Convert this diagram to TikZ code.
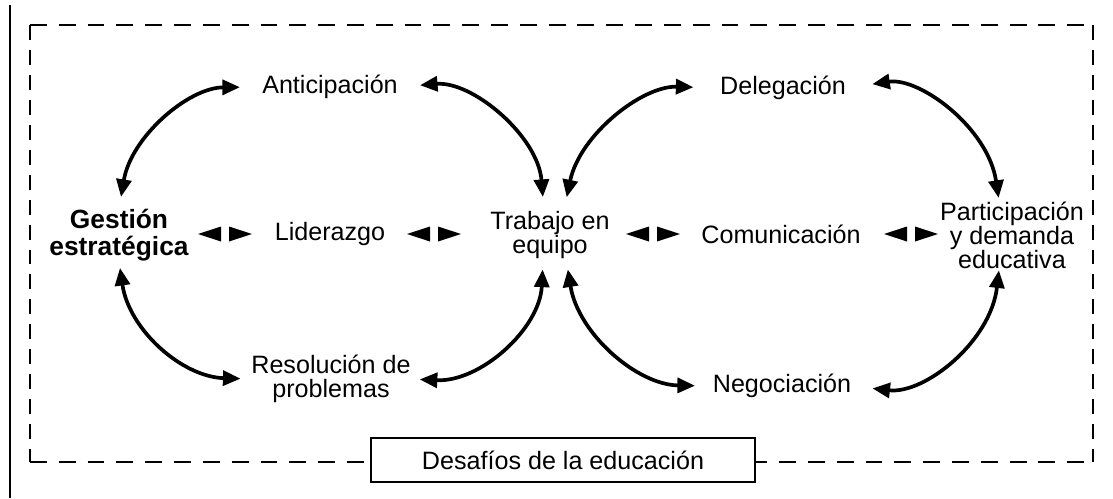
\documentclass[tikz,border=0pt]{standalone}
\usepackage{fontspec}
\setmainfont{Liberation Sans}
\usepackage{tikz}
\usetikzlibrary{arrows.meta}
\tikzset{l/.style={font=\fontsize{14.3}{13.6}\selectfont, inner sep=0pt, align=center}}
\tikzset{b/.style={font=\fontsize{15}{15}\selectfont\bfseries, inner sep=0pt, align=center}}
\tikzset{dbl/.style={{Triangle[length=10pt,width=8.5pt]}-{Triangle[length=10pt,width=8.5pt]}, line width=2.1pt}}
\tikzset{hdash/.style={line width=1.1pt, dash pattern=on 9.6pt off 6.8pt}}
\tikzset{vdash/.style={line width=1.1pt, dash pattern=on 8.5pt off 5.7pt}}
\tikzset{twin/.pic={
  \fill (-27,0)--(-4,-7.5)--(-4,7.5)--cycle;
  \fill (27,0)--(4,-7.5)--(4,7.5)--cycle;}}

\begin{document}
\begin{tikzpicture}[x=0.02cm, y=-0.02cm]
  \useasboundingbox (0,0) rectangle (1113,498);
  \draw[line width=1.2pt] (10,5)--(10,498);
  \draw[hdash] (30,25)--(1093,25);
  \draw[hdash] (30,462)--(1093,462);
  \draw[vdash] (30,25)--(30,462);
  \draw[vdash] (1093,25)--(1093,462);
  \node (des) at (563,460) [l, draw, fill=white, line width=0.9pt, minimum width=7.68cm, minimum height=0.88cm] {Desafíos de la educación};

  \node (g) at (119,235) [b] {Gestión\\estratégica};
  \node (lid) at (330,234) [l] {Liderazgo};
  \node (tra) at (550,235) [l] {Trabajo en\\equipo};
  \node (com) at (781,234) [l] {Comunicación};
  \node (par) at (1012,235) [l] {Participación\\y demanda\\educativa};
  \node (ant) at (330,87) [l] {Anticipación};
  \node (del) at (783,88) [l] {Delegación};
  \node (res) at (331,379) [l] {Resolución de\\problemas};
  \node (neg) at (782,386) [l] {Negociación};

  \pic at (225,234) {twin};
  \pic at (434,234) {twin};
  \pic at (653,234) {twin};
  \pic at (911,234) {twin};

  \draw[dbl, shorten <=7pt, shorten >=12.5pt] (g.north) to [bend left=40] (ant.west);
  \draw[dbl, shorten <=12.5pt, shorten >=8pt] (ant.east) to [bend left=45] (tra.104);
  \draw[dbl, shorten <=8pt, shorten >=15pt] (tra.60) to [bend left=40] (del.west);
  \draw[dbl, shorten <=15pt, shorten >=2pt] (del.east) to [bend left=45] (par.111);
  \draw[dbl, shorten <=4pt, shorten >=6pt] (g.south) to [bend right=40] (res.west);
  \draw[dbl, shorten <=5pt, shorten >=6pt] (res.east) to [bend right=45] (tra.254);
  \draw[dbl, shorten <=6pt, shorten >=10pt] (tra.304) to [bend right=40] (neg.west);
  \draw[dbl, shorten <=12pt, shorten >=1pt] (neg.east) to [bend right=45] (par.249);
\end{tikzpicture}
\end{document}
